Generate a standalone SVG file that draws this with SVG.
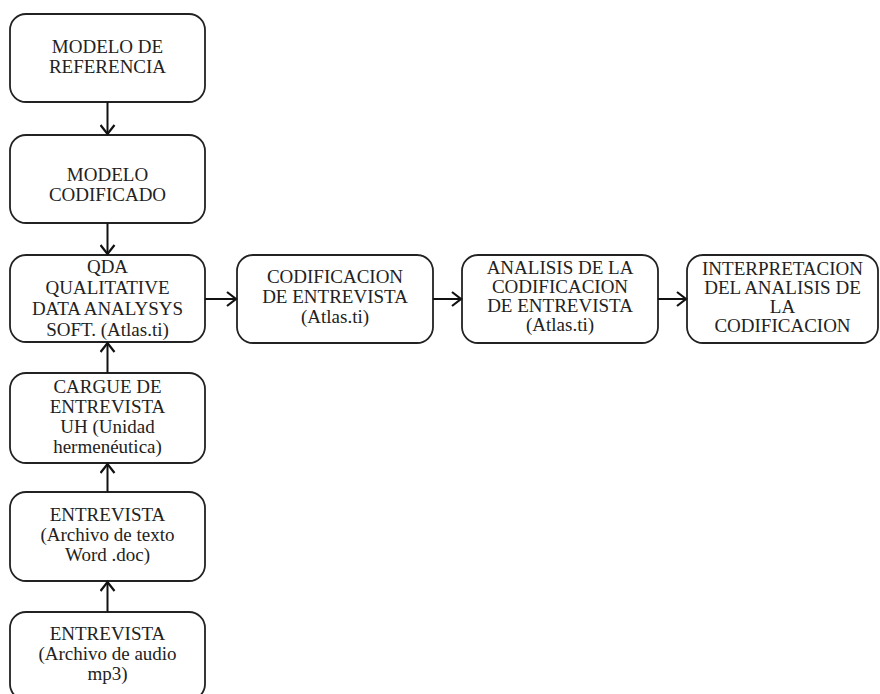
<svg xmlns="http://www.w3.org/2000/svg" width="880" height="694" viewBox="0 0 880 694">
<style>
.box{fill:#fff;stroke:#222;stroke-width:1.8}
text{font-family:'Liberation Serif','Times New Roman','DejaVu Serif',serif;font-size:19px;fill:#222;text-anchor:middle}
.c{stroke:#111;stroke-width:2;fill:none}
</style>
<defs>
<marker id="ah" markerUnits="userSpaceOnUse" viewBox="0 0 12 16" markerWidth="12" markerHeight="16" refX="10" refY="8" orient="auto">
<path d="M1,1 L10,8 L1,15" fill="none" stroke="#111" stroke-width="2.2"/>
</marker>
</defs>
<rect width="880" height="694" fill="#fff"/>
<g id="n1"><rect class="box" x="10" y="14" width="195" height="88" rx="16"/>
<text x="107.5" y="53">MODELO DE</text><text x="107.5" y="73">REFERENCIA</text></g>
<g id="n2"><rect class="box" x="10" y="135" width="195" height="88" rx="16"/>
<text x="107.5" y="181">MODELO</text><text x="107.5" y="201">CODIFICADO</text></g>
<g id="n3"><rect class="box" x="10" y="255" width="195" height="87" rx="16"/>
<text x="107.5" y="273">QDA</text><text x="107.5" y="294">QUALITATIVE</text><text x="107.5" y="315">DATA ANALYSYS</text><text x="107.5" y="336">SOFT. (Atlas.ti)</text></g>
<g id="n4"><rect class="box" x="10" y="373" width="195" height="90" rx="16"/>
<text x="107.5" y="393">CARGUE DE</text><text x="107.5" y="413">ENTREVISTA</text><text x="107.5" y="433">UH (Unidad</text><text x="107.5" y="453">hermenéutica)</text></g>
<g id="n5"><rect class="box" x="10" y="492" width="195" height="89" rx="16"/>
<text x="107.5" y="521">ENTREVISTA</text><text x="107.5" y="541">(Archivo de texto</text><text x="107.5" y="561">Word .doc)</text></g>
<g id="n6"><rect class="box" x="10" y="612" width="195" height="88" rx="16"/>
<text x="107.5" y="640">ENTREVISTA</text><text x="107.5" y="660">(Archivo de audio</text><text x="107.5" y="680">mp3)</text></g>
<g id="n7"><rect class="box" x="237" y="255" width="196" height="88" rx="16"/>
<text x="335" y="283">CODIFICACION</text><text x="335" y="303">DE ENTREVISTA</text><text x="335" y="323">(Atlas.ti)</text></g>
<g id="n8"><rect class="box" x="462" y="255" width="196" height="88" rx="16"/>
<text x="560" y="274">ANALISIS DE LA</text><text x="560" y="293">CODIFICACION</text><text x="560" y="312">DE ENTREVISTA</text><text x="560" y="331">(Atlas.ti)</text></g>
<g id="n9"><rect class="box" x="687" y="255" width="191" height="88" rx="16"/>
<text x="782.5" y="275">INTERPRETACION</text><text x="782.5" y="294">DEL ANALISIS DE</text><text x="782.5" y="313">LA</text><text x="782.5" y="332">CODIFICACION</text></g>
<g id="connectors">
<line class="c" x1="107.5" y1="102" x2="107.5" y2="134" marker-end="url(#ah)"/>
<line class="c" x1="107.5" y1="223" x2="107.5" y2="254" marker-end="url(#ah)"/>
<line class="c" x1="107.5" y1="373" x2="107.5" y2="343" marker-end="url(#ah)"/>
<line class="c" x1="107.5" y1="492" x2="107.5" y2="464" marker-end="url(#ah)"/>
<line class="c" x1="107.5" y1="612" x2="107.5" y2="582" marker-end="url(#ah)"/>
<line class="c" x1="205" y1="299" x2="236" y2="299" marker-end="url(#ah)"/>
<line class="c" x1="433" y1="299" x2="461" y2="299" marker-end="url(#ah)"/>
<line class="c" x1="658" y1="299" x2="686" y2="299" marker-end="url(#ah)"/>
</g>
</svg>
